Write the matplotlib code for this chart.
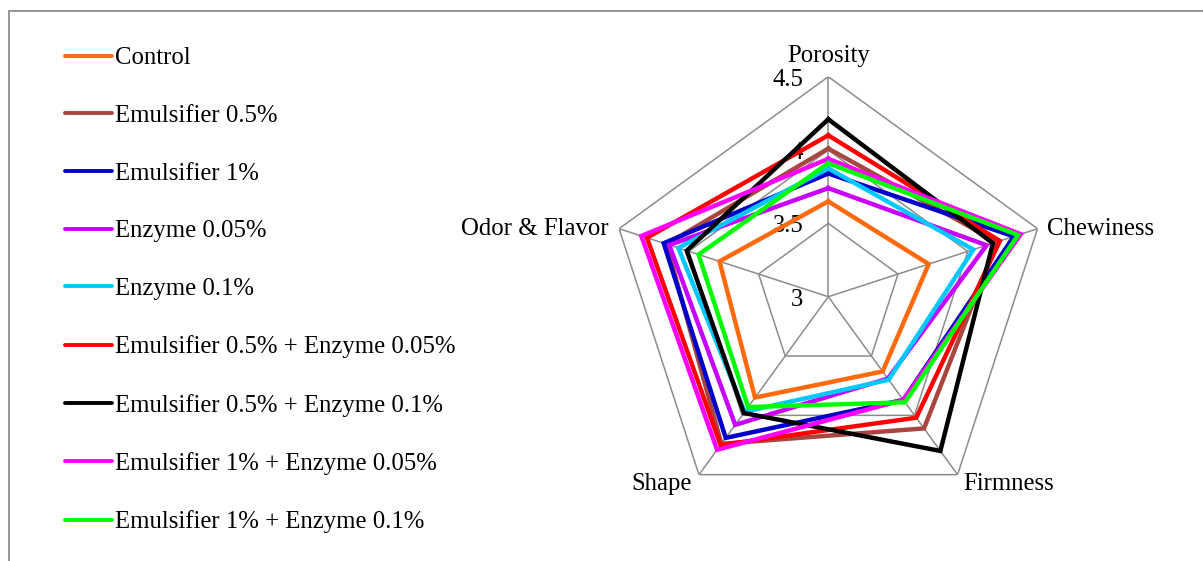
import numpy as np
import matplotlib
matplotlib.use("Agg")
import matplotlib.pyplot as plt
from matplotlib.lines import Line2D
from matplotlib.patches import Rectangle

plt.rcParams['font.family'] = ['Liberation Serif', 'DejaVu Serif']

categories = ['Porosity', 'Chewiness', 'Firmness', 'Shape', 'Odor & Flavor']
series_names = ['Control', 'Emulsifier 0.5%', 'Emulsifier 1%', 'Enzyme 0.05%',
                'Enzyme 0.1%', 'Emulsifier 0.5% + Enzyme 0.05%',
                'Emulsifier 0.5% + Enzyme 0.1%', 'Emulsifier 1% + Enzyme 0.05%',
                'Emulsifier 1% + Enzyme 0.1%']
control = [3.65, 3.72, 3.63, 3.85, 3.78]
emul_05 = [4.01, 4.21, 4.11, 4.24, 4.16]
emul_1 = [3.84, 4.33, 3.87, 4.19, 4.18]
enz_005 = [3.74, 4.135, 3.69, 4.08, 4.14]
enz_01 = [3.875, 4.04, 3.70, 3.97, 4.075]
emul05_enz005 = [4.10, 4.23, 4.02, 4.25, 4.30]
emul05_enz01 = [4.21, 4.18, 4.30, 3.98, 4.015]
emul1_enz005 = [3.94, 4.38, 3.87, 4.29, 4.34]
emul1_enz01 = [3.91, 4.36, 3.89, 3.93, 3.93]
series_values = [control, emul_05, emul_1, enz_005, enz_01,
                 emul05_enz005, emul05_enz01, emul1_enz005, emul1_enz01]
colors = ['#FF6A0E', '#A8473F', '#0000C8', '#C800FF', '#00C8FF',
          '#FF0000', '#000000', '#FF00FF', '#00FF00']
grid_levels = [3.5, 4.0, 4.5]
tick_labels = ['3', '3.5', '4', '4.5']
tick_values = [3.0, 3.5, 4.0, 4.5]

W, H = 1203, 561
fig = plt.figure(figsize=(W / 100, H / 100), dpi=100)
fig.patch.set_facecolor('white')

# outer frame
fig.add_artist(Rectangle((9 / W, -0.1), 1.2, (H - 11) / H + 0.1,
                         transform=fig.transFigure, fill=False,
                         edgecolor='#8C8C8C', linewidth=1.3))

cx, cy, R = 828.3, 296.7, 220.0
ax = fig.add_axes([(cx - R) / W, (H - cy - R) / H, 2 * R / W, 2 * R / H],
                  projection='polar')
ax.set_theta_zero_location('N')
ax.set_theta_direction(-1)
ax.set_ylim(3.0, 4.5)
ax.grid(False)
ax.spines['polar'].set_visible(False)
ax.set_xticks([])
ax.set_yticks([])
ax.patch.set_alpha(0)

n = len(categories)
theta = np.linspace(0, 2 * np.pi, n, endpoint=False)
theta_c = np.append(theta, theta[0])

gray = '#8C8C8C'
for lvl in grid_levels:
    ax.plot(theta_c, [lvl] * (n + 1), color=gray, lw=1.1, zorder=1)
for t in theta:
    ax.plot([t, t], [3.0, 4.5], color=gray, lw=1.1, zorder=1)

handles = []
for vals, c, name in zip(series_values, colors, series_names):
    v = list(vals) + [vals[0]]
    ax.plot(theta_c, v, color=c, lw=3.2, solid_joinstyle='miter', zorder=3)
    handles.append(Line2D([], [], color=c, lw=2.8, solid_capstyle='round'))

fs = 17.8
for tv, tl in zip(tick_values, tick_labels):
    ax.annotate(tl, xy=(0, tv), xytext=(-25, -3), textcoords='offset pixels',
                ha='right', va='center', fontsize=fs, zorder=2,
                annotation_clip=False)

label_offsets = [(0, 21, 'center'), (9, 0, 'left'), (6, -9, 'left'),
                 (-7, -9, 'right'), (-10, 0, 'right')]
for t, cat, (dx, dy, ha) in zip(theta, categories, label_offsets):
    ax.annotate(cat, xy=(t, 4.5), xytext=(dx, dy), textcoords='offset pixels',
                ha=ha, va='center', fontsize=fs, annotation_clip=False)

fig.legend(handles, series_names, loc='upper left',
           bbox_to_anchor=(65 / W, (H - 47) / H), frameon=False,
           fontsize=fs, handlelength=1.9, handletextpad=0.12,
           labelspacing=1.43, borderpad=0, borderaxespad=0)

fig.savefig('out.png', dpi=100, facecolor='white')
